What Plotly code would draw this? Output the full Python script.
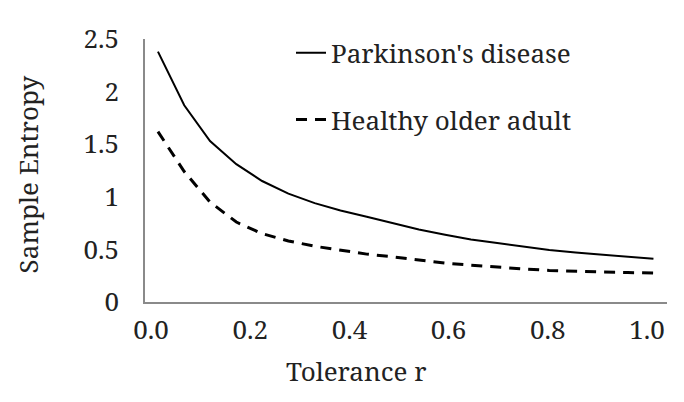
import plotly.graph_objects as go

# Tolerance r positions of the plotted points
r_values = [0.014, 0.067, 0.119, 0.172, 0.224, 0.277, 0.330, 0.382, 0.435, 0.487,
            0.540, 0.593, 0.645, 0.698, 0.750, 0.803, 0.856, 0.908, 0.961, 1.013]
parkinsons = [2.38, 1.87, 1.53, 1.31, 1.15, 1.03, 0.94, 0.87, 0.81, 0.75,
              0.69, 0.64, 0.595, 0.56, 0.525, 0.495, 0.47, 0.45, 0.43, 0.41]
healthy = [1.62, 1.24, 0.95, 0.76, 0.65, 0.58, 0.53, 0.49, 0.455, 0.43,
           0.40, 0.37, 0.35, 0.33, 0.315, 0.30, 0.29, 0.285, 0.28, 0.275]

x_ticks = [0.0, 0.2, 0.4, 0.6, 0.8, 1.0]
x_tick_labels = ["0.0", "0.2", "0.4", "0.6", "0.8", "1.0"]
y_ticks = [0, 0.5, 1, 1.5, 2, 2.5]
y_tick_labels = ["0", "0.5", "1", "1.5", "2", "2.5"]

FONT = "Noto Serif"
FS = 26
TXT = "#222222"

fig = go.Figure()
fig.add_trace(go.Scatter(x=r_values, y=parkinsons, mode="lines",
                         name="Parkinson's disease", legendgroup="a",
                         line=dict(color="black", width=2)))
fig.add_trace(go.Scatter(x=r_values, y=healthy, mode="lines",
                         name="Healthy older adult", legendgroup="b",
                         line=dict(color="black", width=3, dash="11px,8px")))

fig.update_layout(
    width=676, height=394,
    margin=dict(l=137, r=17, t=24, b=100),
    paper_bgcolor="white", plot_bgcolor="white",
    font=dict(family=FONT, size=FS, color=TXT),
    showlegend=True,
    legend=dict(x=(291 - 145) / 522, y=1.037, xanchor="left", yanchor="top",
                bgcolor="rgba(0,0,0,0)", font=dict(size=FS, family=FONT, color=TXT),
                tracegroupgap=30, traceorder="grouped"),
    xaxis=dict(range=[-0.0121, 1.0403], tickvals=x_ticks, ticktext=x_tick_labels,
               tickfont=dict(family=FONT, size=FS, color=TXT),
               showgrid=False, zeroline=False, showline=True, linecolor="#8a8a8a",
               linewidth=1.5, ticks="", ticklen=0, ticklabelstandoff=4),
    yaxis=dict(range=[0, 2.5], tickvals=y_ticks, ticktext=y_tick_labels,
               tickfont=dict(family=FONT, size=FS, color=TXT),
               showgrid=False, zeroline=False, showline=True, linecolor="#8a8a8a",
               linewidth=1.5, ticks="", ticklen=0, ticklabelstandoff=19),
    annotations=[
        dict(text="Tolerance r", xref="paper", yref="paper",
             x=(356 - 145) / 522, y=-(373 - 302) / 270, xanchor="center", yanchor="middle",
             showarrow=False, font=dict(size=FS, family=FONT, color=TXT)),
        dict(text="Sample Entropy", xref="paper", yref="paper",
             x=-(145 - 28) / 522, y=(302 - 171) / 270, xanchor="center", yanchor="middle",
             textangle=-90, showarrow=False, font=dict(size=FS, family=FONT, color=TXT)),
    ],
)

fig.write_html("out.html")
